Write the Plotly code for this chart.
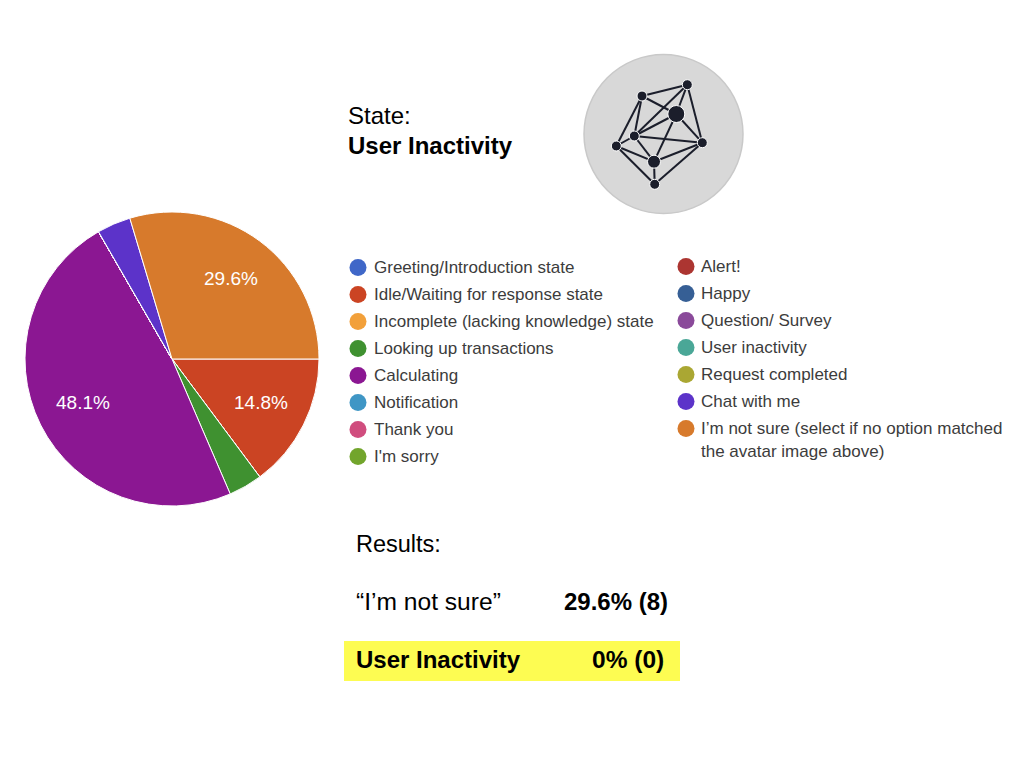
import math
import plotly.graph_objects as go

# ---- data ----
categories = ["Greeting/Introduction state", "Idle/Waiting for response state",
              "Incomplete (lacking knowledge) state", "Looking up transactions",
              "Calculating", "Notification", "Thank you", "I'm sorry",
              "Alert!", "Happy", "Question/ Survey", "User inactivity",
              "Request completed", "Chat with me",
              "I’m not sure (select if no option matched"]
counts = [0, 4, 0, 1, 13, 0, 0, 0, 0, 0, 0, 0, 0, 1, 8]
colors = ["#3f67c8", "#cb4423", "#f2a03a", "#3f9130", "#8b1792", "#3f96c5", "#d04d7e", "#72a52c",
          "#ac3531", "#365f95", "#8a4a9a", "#4aa797", "#aaa733", "#5c33c9", "#d77a2c"]
legend_wrap = "the avatar image above)"
slice_labels = ["", "14.8%", "", "", "48.1%", "", "", "", "", "", "", "", "", "", "29.6%"]

node_x = [642, 687.3, 676.3, 634.3, 616.3, 702.3, 654, 654.7]
node_y = [96, 84.7, 114, 136, 146, 142.7, 161.7, 184.3]
node_size = [10, 10, 17, 10, 10, 10, 13, 10]
edges = [(0, 1), (0, 2), (0, 3), (0, 4), (1, 2), (1, 3), (1, 5), (2, 3), (2, 5), (2, 6),
         (3, 4), (3, 5), (3, 6), (4, 6), (4, 7), (5, 6), (5, 7), (6, 7)]

FONT = "Liberation Sans"
W, H = 1024, 768
PIE_L, PIE_R, PIE_T, PIE_B = 25, 319, 212, 506

fig = go.Figure()

# pie
fig.add_trace(go.Pie(
    labels=categories, values=counts, sort=False, direction="clockwise", rotation=90,
    marker=dict(colors=colors, line=dict(color="white", width=1)),
    textinfo="none",
    domain=dict(x=[PIE_L / W, PIE_R / W], y=[1 - PIE_B / H, 1 - PIE_T / H]),
    showlegend=False,
))

# avatar edges
ex, ey = [], []
for a, b in edges:
    ex += [node_x[a], node_x[b], None]
    ey += [node_y[a], node_y[b], None]
fig.add_trace(go.Scatter(x=ex, y=ey, mode="lines", line=dict(color="#1b1e2b", width=2),
                         hoverinfo="skip", showlegend=False))
fig.add_trace(go.Scatter(x=node_x, y=node_y, mode="markers",
                         marker=dict(color="#1b1e2b", size=node_size, opacity=1),
                         hoverinfo="skip", showlegend=False))

# legend dots
rows_left = 8
lx = [358] * rows_left + [686] * (len(categories) - rows_left)
ly = [267.5 + 27 * i for i in range(rows_left)] + [266.5 + 27 * i for i in range(len(categories) - rows_left)]
fig.add_trace(go.Scatter(x=lx, y=ly, mode="markers", marker=dict(color=colors, size=17),
                         hoverinfo="skip", showlegend=False))

anns = []
def txt(x, y, s, size, color="black", anchor="left"):
    anns.append(dict(x=x, y=y, xref="x", yref="y", text=s, showarrow=False, xanchor=anchor,
                     yanchor="middle", borderpad=0, font=dict(family=FONT, size=size, color=color)))

# slice labels, placed from the counts along each slice's mid angle
cx, cy = (PIE_L + PIE_R) / 2, (PIE_T + PIE_B) / 2
rad = (PIE_R - PIE_L) / 2
total = sum(counts)
start = 90.0
for c, lab in zip(counts, slice_labels):
    sweep = 360.0 * c / total
    if lab:
        mid = math.radians(start + sweep / 2)
        txt(cx + 0.675 * rad * math.sin(mid), cy - 0.675 * rad * math.cos(mid) - 1, lab, 19, "white", "center")
    start += sweep

for i, c in enumerate(categories):
    txt(372.8 if i < rows_left else 700.3, ly[i], c, 17, "#3c3c3c")
txt(700.3, 451, legend_wrap, 17, "#3c3c3c")

txt(347.3, 115.5, "State:", 24)
txt(347.3, 145, "<b>User Inactivity</b>", 24)
txt(355, 544, "Results:", 23.5)
txt(355, 601.5, "“I’m not sure”", 24.6)
txt(562.5, 601.5, "<b>29.6% (8)</b>", 24)
txt(355, 659.5, "<b>User Inactivity</b>", 24)
txt(591, 659.5, "<b>0% (0)</b>", 24.5)

shapes = [
    dict(type="circle", xref="x", yref="y", x0=584, x1=743, y0=54.5, y1=213.5,
         fillcolor="#d8d8d8", line=dict(color="#c9c9c9", width=1.5), layer="below"),
    dict(type="rect", xref="x", yref="y", x0=344, x1=680, y0=641, y1=681,
         fillcolor="#fdfc52", line=dict(width=0), layer="below"),
]

fig.update_layout(
    width=W, height=H, margin=dict(l=0, r=0, t=0, b=0),
    paper_bgcolor="white", plot_bgcolor="white",
    xaxis=dict(range=[0, W], visible=False, fixedrange=True),
    yaxis=dict(range=[H, 0], visible=False, fixedrange=True),
    annotations=anns, shapes=shapes,
)

fig.write_html("out.html", config=dict(displayModeBar=False),
               post_script="document.body.style.margin='0';")
